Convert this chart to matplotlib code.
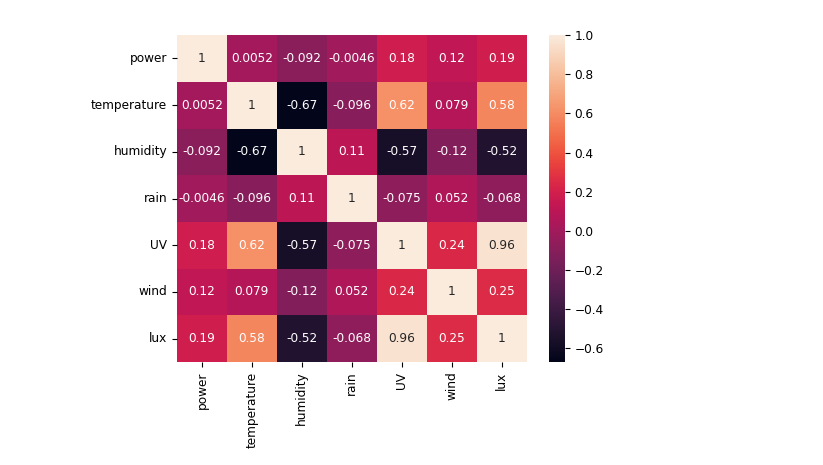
import numpy as np
import pandas as pd
import seaborn as sns
import matplotlib
matplotlib.use("Agg")
import matplotlib.pyplot as plt

plt.rcParams["font.size"] = 8.7

labels = ["power", "temperature", "humidity", "rain", "UV", "wind", "lux"]

power = [1, 0.0052, -0.092, -0.0046, 0.18, 0.12, 0.19]
temperature = [0.0052, 1, -0.67, -0.096, 0.62, 0.079, 0.58]
humidity = [-0.092, -0.67, 1, 0.11, -0.57, -0.12, -0.52]
rain = [-0.0046, -0.096, 0.11, 1, -0.075, 0.052, -0.068]
uv = [0.18, 0.62, -0.57, -0.075, 1, 0.24, 0.96]
wind = [0.12, 0.079, -0.12, 0.052, 0.24, 1, 0.25]
lux = [0.19, 0.58, -0.52, -0.068, 0.96, 0.25, 1]

corr = pd.DataFrame([power, temperature, humidity, rain, uv, wind, lux],
                    index=labels, columns=labels)

fig = plt.figure(figsize=(8.23, 4.65), dpi=100)
ax = fig.add_axes([0.215, 0.2215, 0.425, 0.703])
cax = fig.add_axes([0.667, 0.2215, 0.0194, 0.703])

sns.heatmap(corr, annot=True, ax=ax, cbar_ax=cax)

plt.savefig("out.png", dpi=100)
